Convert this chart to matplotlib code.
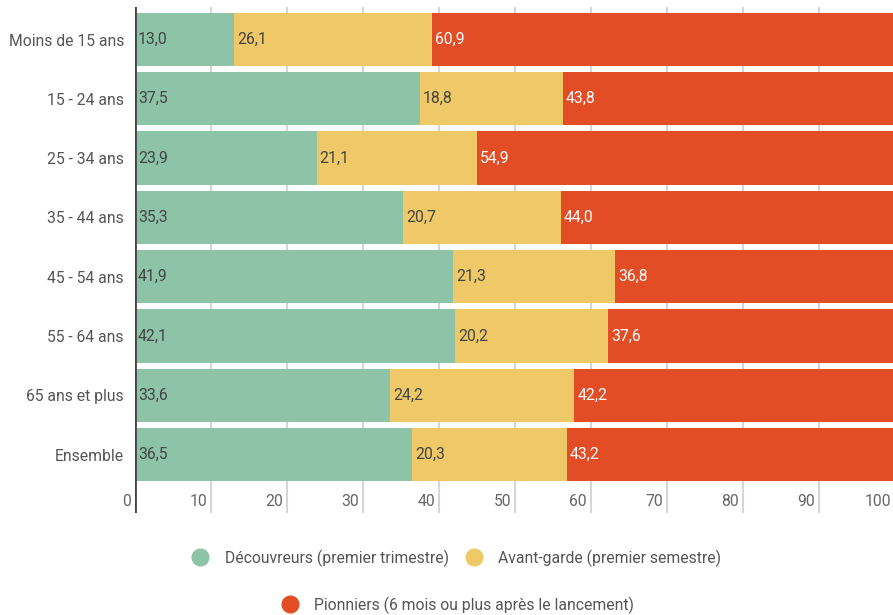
import matplotlib
matplotlib.use("Agg")
import matplotlib.pyplot as plt
from matplotlib.lines import Line2D
from matplotlib.transforms import ScaledTranslation

categories = ["Moins de 15 ans", "15 - 24 ans", "25 - 34 ans", "35 - 44 ans",
              "45 - 54 ans", "55 - 64 ans", "65 ans et plus", "Ensemble"]
decouvreurs = [13.0, 37.5, 23.9, 35.3, 41.9, 42.1, 33.6, 36.5]
avant_garde = [26.1, 18.8, 21.1, 20.7, 21.3, 20.2, 24.2, 20.3]
pionniers = [60.9, 43.8, 54.9, 44.0, 36.8, 37.6, 42.2, 43.2]
series_names = ["Découvreurs (premier trimestre)", "Avant-garde (premier semestre)",
                "Pionniers (6 mois ou plus après le lancement)"]
xticks = [0, 10, 20, 30, 40, 50, 60, 70, 80, 90, 100]

colors = ["#8dc3a7", "#efc967", "#e34d25"]
text_colors = ["#444444", "#444444", "#ffffff"]

FS = 11.3
plt.rcParams['font.family'] = ['Roboto', 'DejaVu Sans']
W, H = 893, 615
fig = plt.figure(figsize=(W / 100, H / 100), dpi=100)
ax_left, ax_right, ax_top, ax_bot = 135, 895, 7, 513
ax = fig.add_axes([ax_left / W, 1 - ax_bot / H, (ax_right - ax_left) / W, (ax_bot - ax_top) / H])

pitch = 59.3
top = -32.5 / pitch
bottom = top + (ax_bot - ax_top) / pitch
ax.set_ylim(bottom, top)
ax.set_xlim(0, 100)

for x in xticks[1:]:
    ax.axvline(x, color="#d6d6d6", lw=1.5, zorder=0)

ypos = list(range(len(categories)))
left = [0.0] * len(categories)
for vals, c, tc in zip([decouvreurs, avant_garde, pionniers], colors, text_colors):
    ax.barh(ypos, vals, left=left, height=0.9, color=c, zorder=2)
    for y, l, v in zip(ypos, left, vals):
        ax.text(l + 0.4, y, f"{v:.1f}".replace(".", ","), ha="left", va="center",
                color=tc, fontsize=FS, zorder=3)
    left = [a + b for a, b in zip(left, vals)]

ax.axvline(0, color="#444444", lw=2, zorder=4)

for s in ax.spines.values():
    s.set_visible(False)

ax.set_yticks(ypos)
ax.set_yticklabels(categories, fontsize=FS, color="#555555")
ax.tick_params(axis="y", length=0, pad=8)

ax.set_xticks(xticks)
ax.set_xticklabels([str(t) for t in xticks], fontsize=FS, color="#666666")
ax.tick_params(axis="x", length=0, pad=-14)
offset = ScaledTranslation(-4 / 100, 0, fig.dpi_scale_trans)
for lab in ax.get_xticklabels():
    lab.set_ha("right")
    lab.set_transform(lab.get_transform() + offset)

def handle(c):
    return Line2D([], [], marker="o", linestyle="none", markersize=12,
                  markerfacecolor=c, markeredgecolor=c)

leg1 = fig.legend([handle(colors[0]), handle(colors[1])], series_names[:2],
                  loc="center", bbox_to_anchor=(453 / W, 1 - 558 / H), ncol=2,
                  frameon=False, fontsize=FS, handletextpad=0.55, columnspacing=0.6,
                  labelcolor="#555555")
leg2 = fig.legend([handle(colors[2])], series_names[2:],
                  loc="center", bbox_to_anchor=(454 / W, 1 - 605 / H), ncol=1,
                  frameon=False, fontsize=FS, handletextpad=0.55,
                  labelcolor="#555555")

fig.savefig("out.png", dpi=100)
